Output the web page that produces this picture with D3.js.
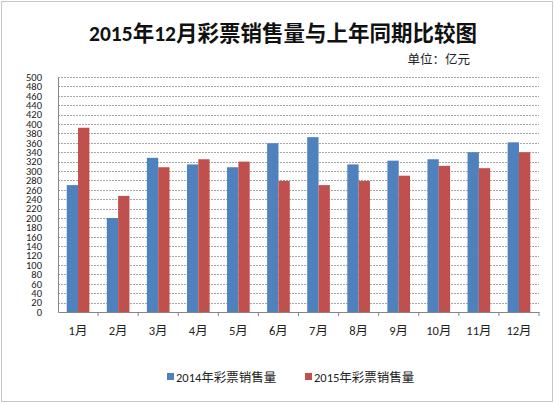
<!DOCTYPE html>
<html>
<head>
<meta charset="utf-8">
<script src="https://cdn.jsdelivr.net/npm/d3@7"></script>
<style>
  body { margin: 0; background: #fff; }
  text { font-family: Calibri, Carlito, "Noto Sans CJK SC", sans-serif; }
</style>
</head>
<body>
<div id="chart"></div>
<script>
// monthly sales, 100 million yuan
var months = ["1月", "2月", "3月", "4月", "5月", "6月", "7月", "8月", "9月", "10月", "11月", "12月"];
var sales2014 = [270, 200, 328, 314, 308, 359, 372, 314, 322, 325, 340, 361];
var sales2015 = [392, 247, 308, 325, 320, 279, 270, 279, 290, 311, 306, 340];
var seriesNames = ["2014年彩票销售量", "2015年彩票销售量"];
var colors = ["#4f81bd", "#c0504d"];
var yTicks = d3.range(0, 501, 20);

var W = 554, H = 403;
var margin = {top: 77, right: 15, bottom: 91, left: 58},
    width = W - margin.left - margin.right,
    height = H - margin.top - margin.bottom;

var root = d3.select("#chart").append("svg")
    .attr("width", W)
    .attr("height", H);

// dotted outer frame
root.append("rect")
    .attr("x", 1.5).attr("y", 1.5)
    .attr("width", W - 3).attr("height", H - 3)
    .attr("fill", "none")
    .attr("stroke", "#8c8c8c")
    .attr("stroke-dasharray", "1,1");

root.append("text")
    .attr("x", 283).attr("y", 41)
    .attr("text-anchor", "middle")
    .attr("font-size", "21.5px")
    .attr("font-weight", "bold")
    .attr("fill", "#111")
    .text("2015年12月彩票销售量与上年同期比较图");

root.append("text")
    .attr("x", 470).attr("y", 64)
    .attr("text-anchor", "end")
    .attr("font-size", "12.5px")
    .attr("fill", "#222")
    .text("单位：亿元");

var svg = root.append("g")
    .attr("transform", "translate(" + margin.left + "," + margin.top + ")");

var x = d3.scaleBand()
    .domain(months)
    .range([0, width]);

var x1 = d3.scaleBand()
    .domain([0, 1])
    .range([0, x.bandwidth() * 0.565])
    .padding(0);

var y = d3.scaleLinear()
    .domain([0, 500])
    .range([height, 0]);

// grid lines
svg.append("g")
    .selectAll("line")
    .data(yTicks.filter(function(d) { return d > 0; }))
    .join("line")
    .attr("x1", 0).attr("x2", width)
    .attr("y1", function(d) { return Math.round(y(d)) + 0.5; })
    .attr("y2", function(d) { return Math.round(y(d)) + 0.5; })
    .attr("stroke", "#a6a6a6")
    .attr("stroke-dasharray", "2,1");

// bars
var offset = (x.bandwidth() - x1.range()[1]) / 2;
var groups = svg.append("g")
    .selectAll("g")
    .data(months)
    .join("g")
    .attr("transform", function(d) { return "translate(" + (x(d) + offset) + ",0)"; });

groups.selectAll("rect")
    .data(function(d, i) { return [sales2014[i], sales2015[i]]; })
    .join("rect")
    .attr("x", function(d, j) { return x1(j); })
    .attr("y", function(d) { return y(d); })
    .attr("width", x1.bandwidth())
    .attr("height", function(d) { return height - y(d); })
    .attr("fill", function(d, j) { return colors[j]; });

// Y axis
var yAxis = svg.append("g")
    .call(d3.axisLeft(y).tickValues(yTicks).tickSize(0).tickPadding(16));
yAxis.select(".domain").attr("stroke", "#868686");
yAxis.selectAll("text")
    .attr("font-size", "10.5px")
    .attr("fill", "#222")
    .style("font-family", "Calibri, Carlito, 'Liberation Sans Narrow', sans-serif");

// X axis
var xAxis = svg.append("g")
    .attr("transform", "translate(0," + height + ")")
    .call(d3.axisBottom(x).tickSize(0).tickPadding(14));
xAxis.select(".domain").attr("stroke", "#868686");
xAxis.selectAll("text")
    .attr("font-size", "12.5px")
    .attr("fill", "#222");

// tick marks at category boundaries
svg.append("g")
    .selectAll("line")
    .data(months)
    .join("line")
    .attr("x1", function(d) { return x(d) + x.bandwidth(); })
    .attr("x2", function(d) { return x(d) + x.bandwidth(); })
    .attr("y1", height).attr("y2", height + 4)
    .attr("stroke", "#868686");

// legend
var legendX = [167, 305];
var legend = root.append("g")
    .selectAll("g")
    .data(seriesNames)
    .join("g")
    .attr("transform", function(d, i) { return "translate(" + legendX[i] + ",377)"; });

legend.append("rect")
    .attr("x", 0).attr("y", -4)
    .attr("width", 7).attr("height", 7)
    .attr("fill", function(d, i) { return colors[i]; });

legend.append("text")
    .attr("x", 9).attr("y", 4.5)
    .attr("font-size", "12.5px")
    .attr("fill", "#222")
    .text(function(d) { return d; });
</script>
</body>
</html>
